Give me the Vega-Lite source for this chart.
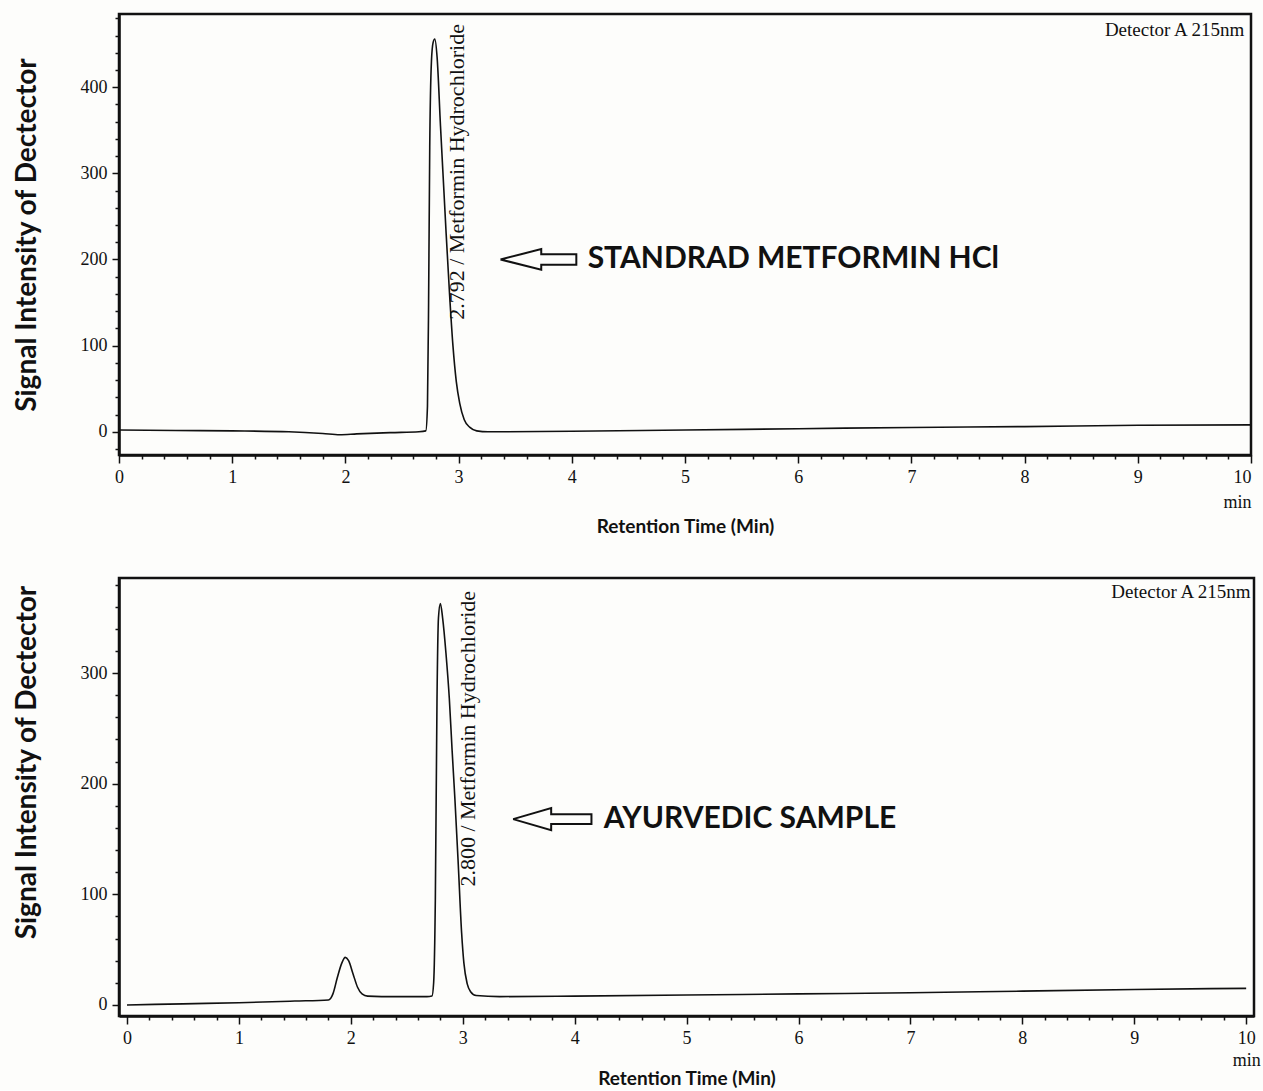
{
  "$schema": "https://vega.github.io/schema/vega-lite/v6.json",
  "background": "#fdfdfb",
  "padding": {"left": 11, "top": 12, "right": 4, "bottom": 0},
  "spacing": 38,
  "config": {
    "view": {"stroke": "#111", "strokeWidth": 2.5},
    "axis": {
      "domainColor": "#111", "domainWidth": 2.5, "tickColor": "#111", "tickWidth": 1.5,
      "labelFont": "Liberation Serif", "labelFontSize": 18, "labelColor": "#111",
      "titleFont": "Lato", "titleFontWeight": "bold", "titleColor": "#111", "grid": false
    }
  },
  "datasets": {
    "std": [
      {"t": 0, "s": 2}, {"t": 0.5, "s": 1.5}, {"t": 1.0, "s": 1}, {"t": 1.5, "s": 0}, {"t": 1.8, "s": -2},
      {"t": 1.95, "s": -3.5}, {"t": 2.1, "s": -2.5}, {"t": 2.4, "s": -1}, {"t": 2.65, "s": 0}, {"t": 2.71, "s": 1},
      {"t": 2.725, "s": 30}, {"t": 2.735, "s": 150}, {"t": 2.745, "s": 330}, {"t": 2.76, "s": 430}, {"t": 2.775, "s": 452},
      {"t": 2.79, "s": 456}, {"t": 2.81, "s": 435}, {"t": 2.84, "s": 355}, {"t": 2.87, "s": 280}, {"t": 2.89, "s": 230},
      {"t": 2.92, "s": 160}, {"t": 2.95, "s": 100}, {"t": 2.98, "s": 58}, {"t": 3.01, "s": 33}, {"t": 3.05, "s": 14},
      {"t": 3.10, "s": 5}, {"t": 3.16, "s": 1}, {"t": 3.26, "s": 0}, {"t": 4, "s": 0.5}, {"t": 5, "s": 2},
      {"t": 6, "s": 3.5}, {"t": 7, "s": 5}, {"t": 8, "s": 6}, {"t": 9, "s": 7.5}, {"t": 10, "s": 8}
    ],
    "ayur": [
      {"t": 0, "s": 0}, {"t": 0.5, "s": 1}, {"t": 1.0, "s": 2}, {"t": 1.5, "s": 3.5}, {"t": 1.80, "s": 4.5},
      {"t": 1.84, "s": 10}, {"t": 1.88, "s": 25}, {"t": 1.92, "s": 38}, {"t": 1.95, "s": 43}, {"t": 1.98, "s": 40},
      {"t": 2.02, "s": 28}, {"t": 2.06, "s": 16}, {"t": 2.10, "s": 10}, {"t": 2.15, "s": 8}, {"t": 2.4, "s": 7.5},
      {"t": 2.68, "s": 7.5}, {"t": 2.725, "s": 8}, {"t": 2.74, "s": 20}, {"t": 2.755, "s": 95}, {"t": 2.77, "s": 277},
      {"t": 2.783, "s": 350}, {"t": 2.80, "s": 363}, {"t": 2.82, "s": 350}, {"t": 2.85, "s": 318}, {"t": 2.88, "s": 277},
      {"t": 2.905, "s": 230}, {"t": 2.93, "s": 186}, {"t": 2.96, "s": 127}, {"t": 2.99, "s": 65}, {"t": 3.01, "s": 38},
      {"t": 3.04, "s": 19}, {"t": 3.07, "s": 12}, {"t": 3.12, "s": 8.5}, {"t": 3.33, "s": 7.5}, {"t": 4, "s": 8},
      {"t": 5, "s": 9}, {"t": 6, "s": 10}, {"t": 7, "s": 11}, {"t": 8, "s": 12.5}, {"t": 9, "s": 14}, {"t": 10, "s": 15}
    ],
    "std_arrow": [
      {"o": 0, "t": 3.37, "s": 200}, {"o": 1, "t": 3.73, "s": 212}, {"o": 2, "t": 3.73, "s": 206}, {"o": 3, "t": 4.04, "s": 206},
      {"o": 4, "t": 4.04, "s": 194}, {"o": 5, "t": 3.73, "s": 194}, {"o": 6, "t": 3.73, "s": 188}, {"o": 7, "t": 3.37, "s": 200}
    ],
    "ayur_arrow": [
      {"o": 0, "t": 3.45, "s": 168}, {"o": 1, "t": 3.79, "s": 178}, {"o": 2, "t": 3.79, "s": 172.5}, {"o": 3, "t": 4.15, "s": 172.5},
      {"o": 4, "t": 4.15, "s": 163.5}, {"o": 5, "t": 3.79, "s": 163.5}, {"o": 6, "t": 3.79, "s": 158}, {"o": 7, "t": 3.45, "s": 168}
    ],
    "std_notes": [
      {"t": 4.14, "s": 200, "label": "STANDRAD METFORMIN HCl"}
    ],
    "ayur_notes": [
      {"t": 4.26, "s": 168, "label": "AYURVEDIC SAMPLE"}
    ],
    "std_peak": [{"t": 2.99, "s": 130, "label": "2.792 / Metformin Hydrochloride"}],
    "ayur_peak": [{"t": 3.05, "s": 107, "label": "2.800 / Metformin Hydrochloride"}],
    "std_det": [{"t": 9.94, "s": 467, "label": "Detector A 215nm"}],
    "ayur_det": [{"t": 10.04, "s": 373, "label": "Detector A 215nm"}]
  },
  "vconcat": [
    {
      "width": 1132,
      "height": 441,
      "resolve": {"axis": {"x": "independent", "y": "independent"}},
      "layer": [
        {
          "data": {"name": "std"},
          "mark": {"type": "line", "color": "#111", "strokeWidth": 1.6, "interpolate": "monotone"},
          "encoding": {
            "x": {"field": "t", "type": "quantitative",
              "scale": {"domain": [0, 10], "nice": false, "zero": false},
              "axis": {"orient": "bottom", "values": [0,1,2,3,4,5,6,7,8,9,10], "tickSize": 8, "labelPadding": 5,
                "labelFlush": false, "labelOverlap": false, "labelLineHeight": 25,
                "labelAlign": {"condition": {"test": "datum.value === 10", "value": "right"}, "value": "center"},
                "labelExpr": "datum.value === 10 ? ['10', 'min'] : datum.label",
                "title": "Retention Time (Min)", "titleFontSize": 19, "titlePadding": 6}},
            "y": {"field": "s", "type": "quantitative",
              "scale": {"domain": [-27, 485], "nice": false, "zero": false},
              "axis": {"orient": "left", "values": [0, 100, 200, 300, 400], "tickSize": 7, "labelPadding": 5,
                "title": "Signal Intensity of Dectector", "titleFontSize": 28, "titlePadding": 39}}
          }
        },
        {
          "data": {"name": "std_arrow"},
          "mark": {"type": "line", "color": "#111", "strokeWidth": 2},
          "encoding": {
            "x": {"field": "t", "type": "quantitative",
              "axis": {"orient": "bottom", "values": [0.2,0.4,0.6,0.8,1.2,1.4,1.6,1.8,2.2,2.4,2.6,2.8,3.2,3.4,3.6,3.8,4.2,4.4,4.6,4.8,5.2,5.4,5.6,5.8,6.2,6.4,6.6,6.8,7.2,7.4,7.6,7.8,8.2,8.4,8.6,8.8,9.2,9.4,9.6,9.8],
                "labels": false, "domain": false, "tickSize": 4, "title": null}},
            "y": {"field": "s", "type": "quantitative",
              "axis": {"orient": "left", "values": [-20,20,40,60,80,120,140,160,180,220,240,260,280,320,340,360,380,420,440,460,480],
                "labels": false, "domain": false, "tickSize": 4, "title": null}},
            "order": {"field": "o", "type": "quantitative"}
          }
        },
        {
          "data": {"name": "std_notes"},
          "mark": {"type": "text", "font": "Lato", "fontWeight": "bold", "fontSize": 30, "align": "left", "baseline": "middle", "color": "#111"},
          "encoding": {
            "x": {"field": "t", "type": "quantitative", "axis": null},
            "y": {"field": "s", "type": "quantitative", "axis": null},
            "text": {"field": "label"}
          }
        },
        {
          "data": {"name": "std_peak"},
          "mark": {"type": "text", "font": "Liberation Serif", "fontSize": 22, "angle": 270, "align": "left", "baseline": "middle", "color": "#111"},
          "encoding": {
            "x": {"field": "t", "type": "quantitative", "axis": null},
            "y": {"field": "s", "type": "quantitative", "axis": null},
            "text": {"field": "label"}
          }
        },
        {
          "data": {"name": "std_det"},
          "mark": {"type": "text", "font": "Liberation Serif", "fontSize": 19, "align": "right", "baseline": "middle", "color": "#111"},
          "encoding": {
            "x": {"field": "t", "type": "quantitative", "axis": null},
            "y": {"field": "s", "type": "quantitative", "axis": null},
            "text": {"field": "label"}
          }
        }
      ]
    },
    {
      "width": 1135,
      "height": 438,
      "resolve": {"axis": {"x": "independent", "y": "independent"}},
      "layer": [
        {
          "data": {"name": "ayur"},
          "mark": {"type": "line", "color": "#111", "strokeWidth": 1.6, "interpolate": "monotone"},
          "encoding": {
            "x": {"field": "t", "type": "quantitative",
              "scale": {"domain": [-0.0715, 10.07], "nice": false, "zero": false},
              "axis": {"orient": "bottom", "values": [0,1,2,3,4,5,6,7,8,9,10], "tickSize": 8, "labelPadding": 5,
                "labelFlush": false, "labelOverlap": false, "labelLineHeight": 22,
                "labelExpr": "datum.value === 10 ? ['10', 'min'] : datum.label",
                "title": "Retention Time (Min)", "titleFontSize": 19, "titlePadding": 0}},
            "y": {"field": "s", "type": "quantitative",
              "scale": {"domain": [-10, 386], "nice": false, "zero": false},
              "axis": {"orient": "left", "values": [0, 100, 200, 300], "tickSize": 7, "labelPadding": 5,
                "title": "Signal Intensity of Dectector", "titleFontSize": 28, "titlePadding": 39, "titleY": 184}}
          }
        },
        {
          "data": {"name": "ayur_arrow"},
          "mark": {"type": "line", "color": "#111", "strokeWidth": 2},
          "encoding": {
            "x": {"field": "t", "type": "quantitative",
              "axis": {"orient": "bottom", "values": [0.2,0.4,0.6,0.8,1.2,1.4,1.6,1.8,2.2,2.4,2.6,2.8,3.2,3.4,3.6,3.8,4.2,4.4,4.6,4.8,5.2,5.4,5.6,5.8,6.2,6.4,6.6,6.8,7.2,7.4,7.6,7.8,8.2,8.4,8.6,8.8,9.2,9.4,9.6,9.8],
                "labels": false, "domain": false, "tickSize": 4, "title": null}},
            "y": {"field": "s", "type": "quantitative",
              "axis": {"orient": "left", "values": [20,40,60,80,120,140,160,180,220,240,260,280,320,340,360,380],
                "labels": false, "domain": false, "tickSize": 4, "title": null}},
            "order": {"field": "o", "type": "quantitative"}
          }
        },
        {
          "data": {"name": "ayur_notes"},
          "mark": {"type": "text", "font": "Lato", "fontWeight": "bold", "fontSize": 30, "align": "left", "baseline": "middle", "color": "#111"},
          "encoding": {
            "x": {"field": "t", "type": "quantitative", "axis": null},
            "y": {"field": "s", "type": "quantitative", "axis": null},
            "text": {"field": "label"}
          }
        },
        {
          "data": {"name": "ayur_peak"},
          "mark": {"type": "text", "font": "Liberation Serif", "fontSize": 22, "angle": 270, "align": "left", "baseline": "middle", "color": "#111"},
          "encoding": {
            "x": {"field": "t", "type": "quantitative", "axis": null},
            "y": {"field": "s", "type": "quantitative", "axis": null},
            "text": {"field": "label"}
          }
        },
        {
          "data": {"name": "ayur_det"},
          "mark": {"type": "text", "font": "Liberation Serif", "fontSize": 19, "align": "right", "baseline": "middle", "color": "#111"},
          "encoding": {
            "x": {"field": "t", "type": "quantitative", "axis": null},
            "y": {"field": "s", "type": "quantitative", "axis": null},
            "text": {"field": "label"}
          }
        }
      ]
    }
  ]
}
